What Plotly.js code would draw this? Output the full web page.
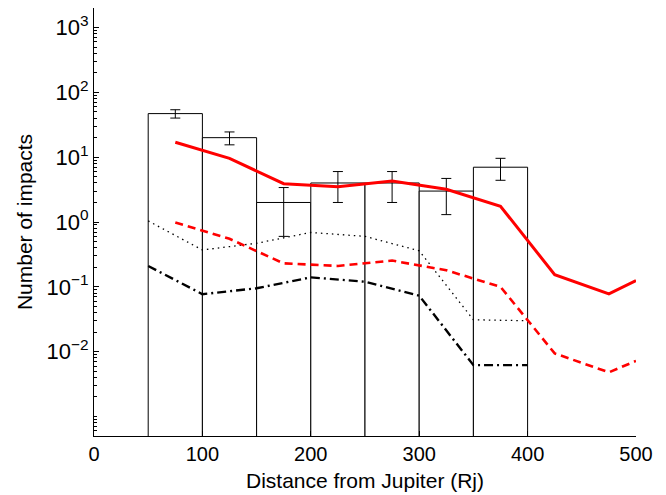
<!DOCTYPE html>
<html>
<head>
<meta charset="utf-8">
<script src="https://cdn.plot.ly/plotly-3.0.1.min.js"></script>
<style>html,body{margin:0;padding:0;background:#fff;}#chart{width:666px;height:495px;}</style>
</head>
<body>
<div id="chart"></div>
<script>
// Observed histogram (bins of 50 Rj)
var binCenters = [75, 125, 175, 225, 275, 325, 375];
var binCounts = [47, 20, 2, 4, 4, 3, 7];
var binErrors = [6.9, 4.5, 1.4, 2.0, 2.0, 1.7, 2.6];

// Red solid model
var redSolidX = [75, 125, 175, 225, 275, 325, 375, 425, 475, 500];
var redSolidY = [17, 9.6, 3.9, 3.5, 4.3, 3.2, 1.75, 0.154, 0.078, 0.125];

// Red dashed model
var redDashX = [75, 125, 175, 225, 275, 325, 375, 425, 475, 500];
var redDashY = [0.98, 0.55, 0.23, 0.21, 0.254, 0.18, 0.1, 0.0094, 0.0048, 0.0072];

// Black dotted model
var dotX = [50, 100, 150, 200, 250, 300, 350, 400];
var dotY = [1.04, 0.37, 0.47, 0.69, 0.6, 0.36, 0.031, 0.030];

// Black dash-dot model
var dashDotX = [50, 100, 150, 200, 250, 300, 350, 400];
var dashDotY = [0.21, 0.077, 0.095, 0.14, 0.12, 0.073, 0.0062, 0.0062];

var yTickVals = [0.01, 0.1, 1, 10, 100, 1000];
var yTickText = ['10<sup>\u22122</sup>', '10<sup>\u22121</sup>', '10<sup>0</sup>', '10<sup>1</sup>', '10<sup>2</sup>', '10<sup>3</sup>'];
var xTickVals = [0, 100, 200, 300, 400, 500];

var traces = [
  {
    type: 'bar', x: binCenters, y: binCounts, width: 50,
    marker: {color: 'rgba(255,255,255,1)', line: {color: 'black', width: 1}},
    error_y: {type: 'data', array: binErrors, visible: true, color: 'black', thickness: 1, width: 5},
    hoverinfo: 'none'
  },
  {type: 'scatter', mode: 'lines', x: dotX, y: dotY,
   line: {color: 'black', width: 1.3, dash: '1.5px,4px'}},
  {type: 'scatter', mode: 'lines', x: dashDotX, y: dashDotY,
   line: {color: 'black', width: 2.4, dash: '9px,4px,2px,4px'}},
  {type: 'scatter', mode: 'lines', x: redDashX, y: redDashY,
   line: {color: 'rgb(255,0,0)', width: 2.6, dash: '8px,5px'}},
  {type: 'scatter', mode: 'lines', x: redSolidX, y: redSolidY,
   line: {color: 'rgb(255,0,0)', width: 3}}
];

var fontFam = 'Liberation Sans, Arial, Helvetica, sans-serif';
var layout = {
  width: 666, height: 495,
  margin: {l: 94, r: 30, t: 8, b: 59},
  paper_bgcolor: 'white', plot_bgcolor: 'white',
  showlegend: false,
  bargap: 0,
  font: {family: fontFam, size: 20, color: 'black'},
  xaxis: {
    range: [0, 500], tickmode: 'array', tickvals: xTickVals,
    showgrid: false, zeroline: false, showline: true, linecolor: 'black', linewidth: 1,
    ticks: 'inside', ticklen: 5, tickcolor: 'black',
    tickfont: {family: fontFam, size: 20, color: 'black'},
    title: {text: 'Distance from Jupiter (Rj)', font: {family: fontFam, size: 21, color: 'black'}, standoff: 9}
  },
  yaxis: {
    type: 'log', range: [Math.log10(5e-4), Math.log10(2000)],
    tickmode: 'array', tickvals: yTickVals, ticktext: yTickText,
    showgrid: false, zeroline: false, showline: true, linecolor: 'black', linewidth: 1,
    ticks: 'inside', ticklen: 5, tickcolor: 'black',
    minor: {ticks: 'inside', ticklen: 3, tickcolor: 'black', dtick: 'D1', showgrid: false},
    tickfont: {family: fontFam, size: 22, color: 'black'},
    title: {text: 'Number of impacts', font: {family: fontFam, size: 21, color: 'black'}, standoff: 8}
  }
};

Plotly.newPlot('chart', traces, layout, {displayModeBar: false, staticPlot: true});
</script>
</body>
</html>
